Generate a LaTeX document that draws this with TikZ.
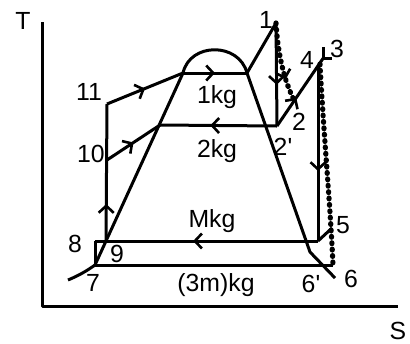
\documentclass[tikz,border=0pt]{standalone}
\usepackage{fontspec}
\setmainfont{Liberation Sans}
\usetikzlibrary{arrows.meta,decorations.markings}
\begin{document}
\begin{tikzpicture}[x=0.5pt,y=-0.5pt]
\tikzset{
  ln/.style={line width=1.5pt, line join=round},
  dots/.style={line width=2.6pt, line cap=round, dash pattern=on 0.4pt off 2.8pt},
  midarr/.style={postaction={decorate}, decoration={markings, mark=at position #1 with {\arrow[line width=1.3pt, line cap=butt]{Straight Barb[length=3.5pt,width=7.5pt]}}}},
  midarr/.default=0.5,
  lbl/.style={font=\fontsize{12.4}{14}\selectfont, anchor=base, inner sep=0pt}
}
\useasboundingbox (0,0) rectangle (410,343);
% axes
\coordinate (ytop) at (42,22);
\coordinate (org) at (42,306);
\coordinate (xend) at (398,306);
\draw[ln] (ytop) -- (org) -- (xend);
% points
\coordinate (p1) at (276,23);
\coordinate (p2p) at (277,126);
\coordinate (p2) at (294,100);
\coordinate (p4) at (318,66);
\coordinate (p4d) at (320,64);
\coordinate (p3) at (324,57);
\coordinate (p5) at (318,241);
\coordinate (p5e) at (332,228);
\coordinate (p6) at (333,265);
\coordinate (p7) at (95,265);
\coordinate (p8) at (95,241);
\coordinate (p9) at (106,241);
\coordinate (p10) at (107,160);
\coordinate (p11) at (107,104);
\coordinate (a) at (183,73);
\coordinate (b) at (247,73);
\coordinate (c) at (160,125);
\coordinate (k) at (310,252);
\coordinate (k2) at (335,278);
\coordinate (tail) at (68,280);
\coordinate (m3a) at (323,47);
\coordinate (m3b) at (323,58);
\coordinate (m3c) at (332,58);
% dome and saturation lines
\draw[ln] (tail) .. controls (80,275) and (88,270) .. (p7) -- (a)
  .. controls (190,42) and (239,42) .. (b) -- (k) -- (k2);
% horizontal lines
\draw[ln, midarr=0.56] (p5) -- (p8);
\draw[ln] (p8) -- (p7);
\draw[ln] (p7) -- (p6);
% cycle
\draw[ln, midarr=0.27] (p9) -- (p11);
\draw[ln, midarr=0.5] (p11) -- (a);
\draw[ln, midarr=0.5] (a) -- (b);
\draw[ln] (b) -- (p1);
\draw[ln, midarr=0.6] (p1) -- (p2p);
\draw[ln, midarr=0.57] (p2p) -- (c);
\draw[ln, midarr=0.5] (p10) -- (c);
\draw[ln, midarr=0.41] (p2p) -- (p3);
\draw[ln, midarr=0.6] (p4) -- (p5);
\draw[ln] (p5) -- (p5e);
\draw[ln] (m3a) -- (m3b) -- (m3c);
% dotted expansions
\draw[dots, midarr=0.72] (p1) .. controls (278,55) and (284,80) .. (p2);
\draw[dots] (p4d) .. controls (324,140) and (330,200) .. (p6);
% labels
\node[lbl] (lT) at (23,29) {T};
\node[lbl] (lS) at (398,339) {S};
\node[lbl] (l11) at (89,100) {11};
\node[lbl] (l10) at (91,162) {10};
\node[lbl] (l1kg) at (217,103) {1kg};
\node[lbl] (l2kg) at (217,157) {2kg};
\node[lbl] (lMkg) at (212,227) {Mkg};
\node[lbl] (l3m) at (216,291) {(3m)kg};
\node[lbl] (l7) at (93,291) {7};
\node[lbl] (l8) at (75,252) {8};
\node[lbl] (l9) at (117,262) {9};
\node[lbl] (l1) at (266,28) {1};
\node[lbl] (l4) at (307,68) {4};
\node[lbl] (l3) at (337,57) {3};
\node[lbl] (l2) at (299,130) {2};
\node[lbl] (l2p) at (283,155) {2\textquotesingle};
\node[lbl] (l5) at (343,233) {5};
\node[lbl] (l6) at (351,287) {6};
\node[lbl] (l6p) at (311,292) {6\textquotesingle};
\end{tikzpicture}
\end{document}
